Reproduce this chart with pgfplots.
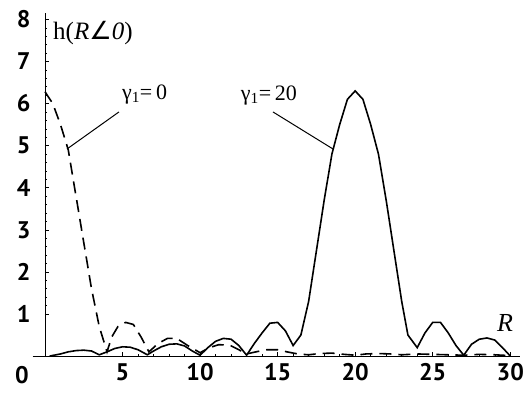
\documentclass[border=0pt]{standalone}
\usepackage{fontspec}
\setmainfont{Liberation Serif}
\newfontfamily\tickfont{PT Sans}
\newfontfamily\dvs{DejaVu Sans}
\usepackage{pgfplots}
\pgfplotsset{compat=1.18}
\begin{document}
\begin{tikzpicture}
\begin{axis}[
  scale only axis, width=487pt, height=343pt,
  xmin=-0.8, xmax=30.6, ymin=0, ymax=8.15,
  axis lines=middle,
  axis line style={-, line width=0.6pt},
  clip=false,
  xtick={5,10,15,20,25,30},
  ytick={1,2,3,4,5,6,7,8},
  minor x tick num=4, minor y tick num=4,
  tick align=inside,
  major tick length=4pt, minor tick length=2.5pt,
  tick style={line width=0.5pt, black},
  /pgf/number format/assume math mode=true,
  tick label style={font=\tickfont\bfseries\fontsize{24}{28}\selectfont},
  xticklabel style={yshift=-4pt},
  yticklabel style={xshift=-11pt},
]
\addplot[black, line width=1.6pt, dash pattern=on 12pt off 7pt] coordinates {
(0,6.28)(0.5,6.0)(1,5.5)(1.5,4.9)(2,3.8)(2.5,2.7)(3,1.6)(3.5,0.7)(4,0.1)
(4.3,0.45)(4.7,0.7)(5.2,0.8)(5.7,0.75)(6.2,0.45)(6.7,0.1)
(7.3,0.3)(7.9,0.42)(8.5,0.42)(9.2,0.25)(10,0.08)
(10.6,0.2)(11.2,0.27)(11.9,0.26)(12.5,0.15)(13,0.05)
(13.6,0.1)(14.3,0.15)(15,0.15)(15.6,0.1)(16.3,0.05)(17,0.03)
(17.7,0.06)(18.5,0.07)(19.3,0.04)(20,0.02)(20.7,0.05)(21.5,0.06)
(22.3,0.05)(23,0.03)(24,0.05)(25,0.04)(26,0.03)(27,0.02)(28,0.04)(29,0.03)(30,0.01)
};
\addplot[black, line width=1.6pt] coordinates {
(0.3,0)(1,0.05)(1.5,0.1)(2,0.13)(2.5,0.14)(3,0.12)(3.5,0.03)
(4,0.1)(4.5,0.18)(5,0.22)(5.5,0.21)(6,0.15)(6.6,0.03)
(7,0.12)(7.5,0.22)(8,0.28)(8.5,0.29)(9,0.24)(9.5,0.12)(10,0.02)
(10.5,0.2)(11,0.35)(11.5,0.42)(12,0.4)(12.5,0.25)(13,0.02)
(13.5,0.3)(14,0.55)(14.5,0.78)(15,0.8)(15.5,0.6)(16,0.25)(16.5,0.5)
(17,1.3)(17.5,2.5)(18,3.7)(18.5,4.8)(19,5.5)(19.5,6.1)(20,6.3)
(20.5,6.1)(21,5.5)(21.5,4.8)(22,3.7)(22.5,2.5)(23,1.3)(23.4,0.5)(24,0.2)
(24.5,0.55)(25,0.8)(25.5,0.8)(26,0.55)(26.5,0.25)(27,0.02)
(27.5,0.28)(28,0.4)(28.5,0.43)(29,0.38)(29.5,0.2)(30,0)
};
\draw[line width=1pt] (axis cs:4.77,5.80) -- (axis cs:1.42,4.92);
\draw[line width=1pt] (axis cs:14.70,5.80) -- (axis cs:18.57,4.92);
\node[font=\fontsize{22}{26}\selectfont] at (axis cs:6.42,6.22) {γ\textsubscript{1}=\,0};
\node[font=\fontsize{22}{26}\selectfont] at (axis cs:14.44,6.2) {γ\textsubscript{1}=\,20};
\node[font=\fontsize{25}{30}\selectfont, anchor=west, inner sep=0pt] at (axis cs:0.52,7.67) {h(\textit{R}{\dvs\itshape ∠}\textit{0})};
\node[font=\fontsize{26}{30}\selectfont\itshape] at (axis cs:29.66,0.78) {R};
\node[font=\tickfont\bfseries\fontsize{24}{28}\selectfont] at (axis cs:-1.48,-0.45) {0};
\coordinate (BL) at (axis cs:-2.9,-0.88);
\coordinate (TR) at (axis cs:30.95,8.46);
\end{axis}
\pgfresetboundingbox
\path[use as bounding box] (BL) rectangle (TR);
\end{tikzpicture}
\end{document}
